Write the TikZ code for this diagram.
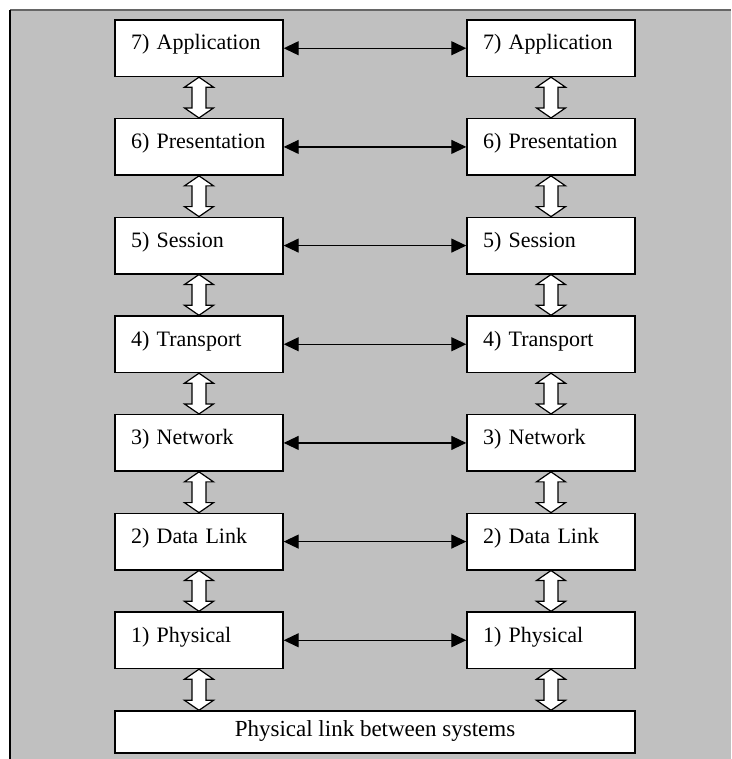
\documentclass[tikz,border=0pt]{standalone}
\usepackage{fontspec}
\setmainfont{Liberation Serif}
\usetikzlibrary{arrows.meta,calc}

\definecolor{panelgray}{HTML}{C0C0C0}

\tikzset{
  layer/.style={draw=black, line width=1.4pt, fill=white, rectangle,
    minimum width=168pt, minimum height=56.5pt, inner xsep=16pt, inner ysep=0pt,
    text width=136pt, align=left, text height=16pt, text depth=12.5pt,
    font=\fontsize{22}{26}\selectfont},
  linkbox/.style={draw=black, line width=1.4pt, fill=white, rectangle,
    minimum width=520pt, minimum height=42pt, inner sep=0pt,
    text height=15pt, text depth=5pt,
    font=\fontsize{23}{27}\selectfont},
  peer/.style={line width=1.2pt, {Triangle[length=15pt,width=14pt]}-{Triangle[length=15pt,width=14pt]}},
  blockarrow/.style={draw=black, line width=1.2pt, fill=white, line join=miter}
}

% hollow two-headed block arrow from the bottom of #1 to the top of #2
\newcommand{\stackarrow}[2]{%
  \draw[blockarrow] let \p1=(#1.south), \p2=(#2.north) in
    (\x1,\y1) -- (\x1-14.5pt,\y1-10pt) -- (\x1-7pt,\y1-10pt) -- (\x1-7pt,\y2+10pt)
    -- (\x1-14.5pt,\y2+10pt) -- (\x1,\y2) -- (\x1+14.5pt,\y2+10pt) -- (\x1+7pt,\y2+10pt)
    -- (\x1+7pt,\y1-10pt) -- (\x1+14.5pt,\y1-10pt) -- cycle;}

\begin{document}
\begin{tikzpicture}[x=1pt,y=1pt]
  \useasboundingbox (0,0) rectangle (731,759);
  \fill[white] (0,0) rectangle (731,759);
  % grey panel with its top and left edges drawn
  \fill[panelgray] (10,0) rectangle (731,749);
  \draw[black!60, line width=1.5pt] (10,749) -- (731,749);
  \draw[black, line width=1.2pt] (10,0) -- (10,749);

  % the seven layers of each system
  \foreach \k/\name [count=\i from 0] in {7/Application,6/Presentation,5/Session,4/Transport,3/Network,2/Data Link,1/Physical}{
    \pgfmathsetmacro{\yc}{759-20-28.25-98.67*\i}
    \node[layer] (L\k) at (199,\yc) {\k) \name};
    \node[layer] (R\k) at (551,\yc) {\k) \name};
    \draw[peer] (L\k.east) -- (R\k.west);
  }

  \node[linkbox] (link) at (375,27) {Physical link between systems};

  % interfaces between adjacent layers
  \foreach \a/\b in {7/6,6/5,5/4,4/3,3/2,2/1}{
    \stackarrow{L\a}{L\b}
    \stackarrow{R\a}{R\b}
  }
  \stackarrow{L1}{link}
  \draw[blockarrow] let \p1=(R1.south), \p2=(link.north) in
    (\x1,\y1) -- (\x1-14.5pt,\y1-10pt) -- (\x1-7pt,\y1-10pt) -- (\x1-7pt,\y2+10pt)
    -- (\x1-14.5pt,\y2+10pt) -- (\x1,\y2) -- (\x1+14.5pt,\y2+10pt) -- (\x1+7pt,\y2+10pt)
    -- (\x1+7pt,\y1-10pt) -- (\x1+14.5pt,\y1-10pt) -- cycle;
\end{tikzpicture}
\end{document}
